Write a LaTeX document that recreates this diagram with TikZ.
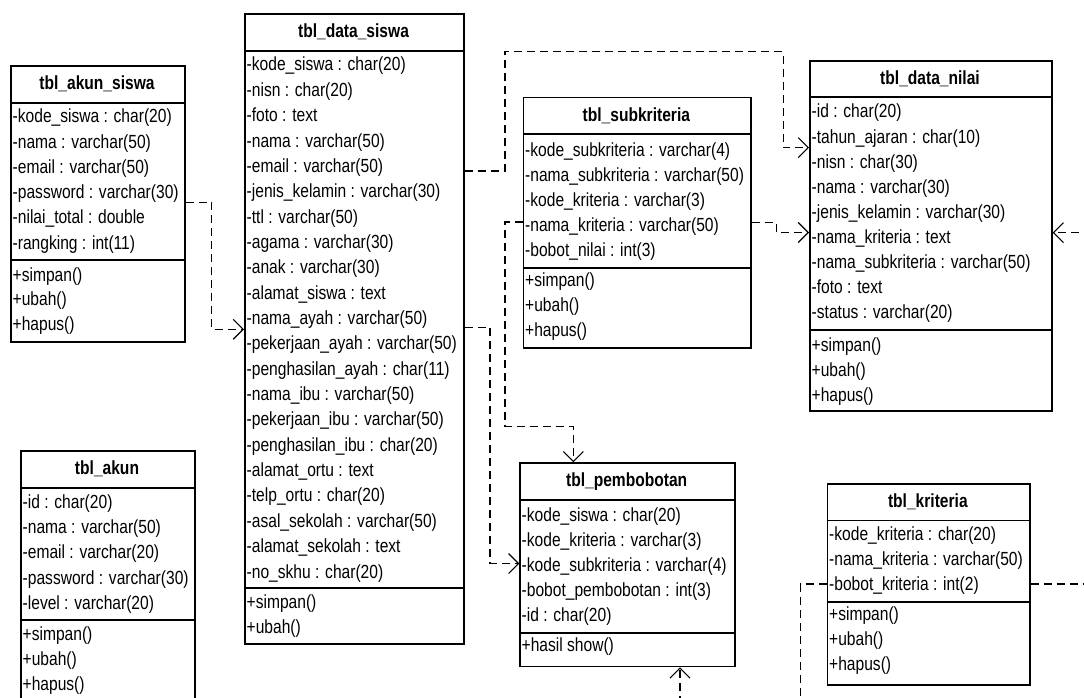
\documentclass[tikz,border=0pt]{standalone}
\usepackage{fontspec}
\setmainfont{Liberation Sans}[FakeStretch=0.82]
\usetikzlibrary{arrows.meta}
\tikzset{
  tbl/.style={draw, line width=1.7pt, inner sep=0pt, anchor=north west, fill=white},
  sepl/.style={line width=1.7pt},
  ttl/.style={inner sep=0pt, font=\fontsize{19}{25.3}\selectfont\bfseries},
  row/.style={inner sep=0pt, anchor=base west, font=\fontsize{19}{25.3}\selectfont},
  dep/.style={line width=1.1pt, dash pattern=on 8pt off 5pt,
    -{Straight Barb[length=10pt,width=20pt]}}
}
\newcommand\tabl[8]{%
  \node[tbl, minimum width=#4pt, minimum height=#5pt] (#1) at (#2,#3) {};
  \node[ttl] (#1-t) at ({#2+#4/2},{(#3+#6)/2}) {#8};
  \draw[sepl] (#1.west |- 0,#6) -- (#1.east |- 0,#6);
  \draw[sepl] (#1.west |- 0,#7) -- (#1.east |- 0,#7);
}
\newcommand\rowsat[5]{%
  \foreach \t [count=\i] in {#5} {\node[row] (#1\i) at (#2,{#3+#4*(\i-1)}) {\t};}%
}
\begin{document}
\begin{tikzpicture}[x=1pt,y=-1pt]
\useasboundingbox (0,0) rectangle (1084,698);
\fill[white] (0,0) rectangle (1084,698);
\clip (0,0) rectangle (1084,698);

% tbl_akun_siswa
\tabl{akunsiswa}{10}{65}{174}{276}{103}{260}{tbl\_akun\_siswa}
\rowsat{akunsiswa-a}{12.5}{123}{25.2}{-kode\_siswa : char(20), -nama : varchar(50), -email : varchar(50), -password : varchar(30), -nilai\_total : double, -rangking : int(11)}
\rowsat{akunsiswa-m}{12.5}{281}{24.8}{+simpan(), +ubah(), +hapus()}

% tbl_data_siswa
\tabl{datasiswa}{244}{13}{219}{630}{51}{588}{tbl\_data\_siswa}
\rowsat{datasiswa-a}{246.5}{71}{25.35}{-kode\_siswa : char(20), -nisn : char(20), -foto : text, -nama : varchar(50), -email : varchar(50), -jenis\_kelamin : varchar(30), -ttl : varchar(50), -agama : varchar(30), -anak : varchar(30), -alamat\_siswa : text, -nama\_ayah : varchar(50), -pekerjaan\_ayah : varchar(50), -penghasilan\_ayah : char(11), -nama\_ibu : varchar(50), -pekerjaan\_ibu : varchar(50), -penghasilan\_ibu : char(20), -alamat\_ortu : text, -telp\_ortu : char(20), -asal\_sekolah : varchar(50), -alamat\_sekolah : text, -no\_skhu : char(20)}
\rowsat{datasiswa-m}{246.5}{608}{25}{+simpan(), +ubah()}

% tbl_subkriteria
\tabl{subkrit}{522.7}{96.7}{227.3}{250.6}{134.3}{267.7}{tbl\_subkriteria}
\rowsat{subkrit-a}{525}{156.5}{25}{-kode\_subkriteria : varchar(4), -nama\_subkriteria : varchar(50), -kode\_kriteria : varchar(3), -nama\_kriteria : varchar(50), -bobot\_nilai : int(3)}
\rowsat{subkrit-m}{525}{286}{25.3}{+simpan(), +ubah(), +hapus()}

% tbl_data_nilai
\tabl{datanilai}{809}{60}{242}{350}{97}{330}{tbl\_data\_nilai}
\rowsat{datanilai-a}{811.5}{118}{25}{-id : char(20), -tahun\_ajaran : char(10), -nisn : char(30), -nama : varchar(30), -jenis\_kelamin : varchar(30), -nama\_kriteria : text, -nama\_subkriteria : varchar(50), -foto : text, -status : varchar(20)}
\rowsat{datanilai-m}{811.5}{351}{25}{+simpan(), +ubah(), +hapus()}

% tbl_pembobotan
\tabl{pembobotan}{519.3}{462.3}{214.7}{203.4}{500}{632.7}{tbl\_pembobotan}
\rowsat{pembobotan-a}{521.5}{521.7}{25}{-kode\_siswa : char(20), -kode\_kriteria : varchar(3), -kode\_subkriteria : varchar(4), -bobot\_pembobotan : int(3), -id : char(20)}
\rowsat{pembobotan-m}{521.5}{651.7}{25}{+hasil show()}

% tbl_akun
\tabl{akun}{20}{450}{174}{256}{488}{620}{tbl\_akun}
\rowsat{akun-a}{22.5}{508}{25.4}{-id : char(20), -nama : varchar(50), -email : varchar(20), -password : varchar(30), -level : varchar(20)}
\rowsat{akun-m}{22.5}{640}{25}{+simpan(), +ubah(), +hapus()}

% tbl_kriteria
\tabl{kriteria}{826.7}{483}{202.3}{201}{520.5}{602}{tbl\_kriteria}
\rowsat{kriteria-a}{829}{540}{25}{-kode\_kriteria : char(20), -nama\_kriteria : varchar(50), -bobot\_kriteria : int(2)}
\rowsat{kriteria-m}{829}{620}{25}{+simpan(), +ubah(), +hapus()}

% connectors
\draw[dep] (akunsiswa.east |- 0,202.3) -| (211.7,329.3) -- (datasiswa.west |- 0,329.3);
\draw[dep] (datasiswa.east |- 0,171) -| (505,51.7) -| (783.3,147.7) -- (datanilai.west |- 0,147.7);
\draw[dep] (subkrit.east |- 0,222.7) -| (776.7,232.5) -- (datanilai.west |- 0,232.5);
\draw[dep] (kriteria.east |- 0,584) -- (1100,584) |- (datanilai.east |- 0,232.7);
\draw[dep] (datasiswa.east |- 0,327.5) -| (490,563.5) -- (pembobotan.west |- 0,563.5);
\draw[dep] (subkrit.west |- 0,222) -| (505,426.7) -| (pembobotan.north -| 573.3,0);
\draw[dep] (kriteria.west |- 0,584) -| (800.7,720) -| (pembobotan.south -| 680,0);
\end{tikzpicture}
\end{document}
